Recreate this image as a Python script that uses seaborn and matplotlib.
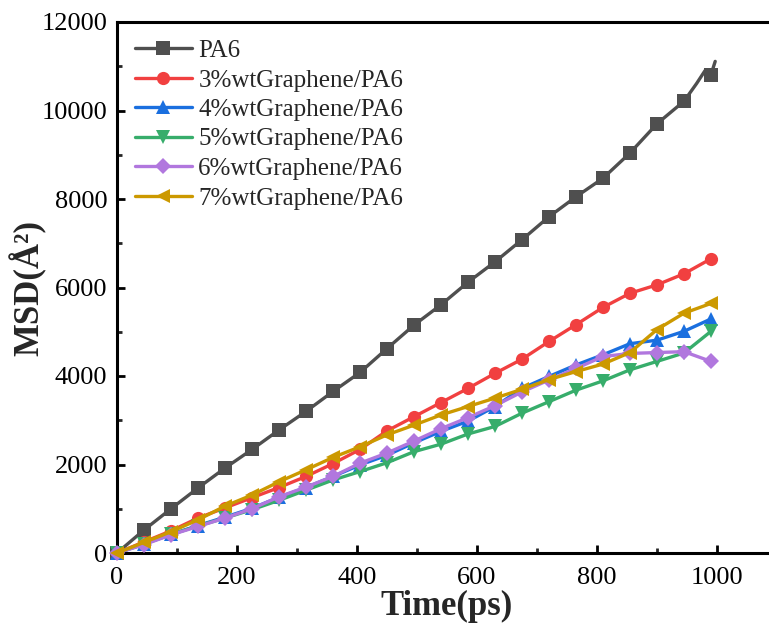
import numpy as np
import pandas as pd
import matplotlib
matplotlib.use("Agg")
import matplotlib.pyplot as plt
import seaborn as sns

# ---- data ----
time_ps = [0, 45, 90, 135, 180, 225, 270, 315, 360, 405, 450, 495, 540,
           585, 630, 675, 720, 765, 810, 855, 900, 945, 990]

pa6 = [0, 520, 1000, 1470, 1920, 2340, 2780, 3200, 3650, 4080, 4620, 5150,
       5610, 6120, 6580, 7080, 7600, 8050, 8470, 9040, 9700, 10210, 10810]
pa6_tail_t = [966, 980, 997]
pa6_tail_v = [10610, 10900, 11110]

g3 = [0, 250, 500, 790, 1020, 1250, 1480, 1730, 2020, 2340, 2760, 3080,
      3400, 3720, 4060, 4380, 4780, 5160, 5550, 5870, 6060, 6310, 6650]
g4 = [0, 200, 420, 620, 810, 1010, 1260, 1480, 1730, 1990, 2210, 2490,
      2750, 2980, 3310, 3720, 3990, 4250, 4480, 4730, 4810, 5010, 5290]
g5 = [0, 210, 420, 610, 790, 980, 1190, 1420, 1650, 1840, 2040, 2290,
      2460, 2690, 2860, 3160, 3420, 3680, 3890, 4140, 4330, 4520, 5010]
g6 = [0, 190, 410, 600, 790, 1000, 1270, 1490, 1730, 2030, 2260, 2530,
      2810, 3060, 3330, 3640, 3910, 4170, 4440, 4510, 4530, 4550, 4330]
g7 = [0, 240, 480, 750, 1060, 1310, 1610, 1880, 2160, 2400, 2670, 2890,
      3120, 3310, 3500, 3700, 3920, 4100, 4270, 4530, 5050, 5420, 5640]

labels = ["PA6", "3%wtGraphene/PA6", "4%wtGraphene/PA6",
          "5%wtGraphene/PA6", "6%wtGraphene/PA6", "7%wtGraphene/PA6"]
colors = ["#4F4F4F", "#F14040", "#1A6FDF", "#37AD6B", "#B177DE", "#CC9900"]
markers = ["s", "o", "^", "v", "D", "<"]
xticks = [0, 200, 400, 600, 800, 1000]
yticks = [0, 2000, 4000, 6000, 8000, 10000, 12000]

# ---- style ----
sns.set_style("ticks")
plt.rcParams["font.family"] = ["Liberation Serif", "DejaVu Serif"]

fig = plt.figure(figsize=(7.69, 6.30), dpi=100)
ax = fig.add_axes([117 / 769, 77 / 630, 660 / 769, 531 / 630])

series = [pa6, g3, g4, g5, g6, g7]
for i, (vals, lab, col, mk) in enumerate(zip(series, labels, colors, markers)):
    t = list(time_ps)
    v = list(vals)
    if i == 0:
        t = t + pa6_tail_t
        v = v + pa6_tail_v
    df = pd.DataFrame({"t": t, "v": v}).sort_values("t", kind="stable")
    mark_idx = [k for k, tt in enumerate(df["t"].tolist()) if tt in time_ps]
    ms = 8.5 if mk in ("D",) else 9.5
    sns.lineplot(data=df, x="t", y="v", ax=ax, color=col, marker=mk,
                 markersize=ms, markeredgewidth=0, linewidth=2.4,
                 markevery=mark_idx, label=lab, sort=False,
                 estimator=None, clip_on=False, zorder=3 + i * 0.01)

ax.set_xlim(0, 1100)
ax.set_ylim(0, 12000)
ax.set_xticks(xticks)
ax.set_yticks(yticks)
ax.set_xticks([100, 300, 500, 700, 900, 1100], minor=True)
ax.set_yticks([1000, 3000, 5000, 7000, 9000, 11000], minor=True)
ax.tick_params(axis="both", which="major", direction="in", length=6,
               width=2, labelsize=19, pad=7, colors="black")
ax.tick_params(axis="x", which="major", pad=10)
ax.tick_params(axis="both", which="minor", direction="in", length=3.5,
               width=2)
for s in ax.spines.values():
    s.set_linewidth(2.2)
    s.set_color("black")

ax.set_xlabel("Time(ps)", fontsize=25, fontweight="bold", labelpad=1)
ax.set_ylabel("MSD(Å²)", fontsize=25, fontweight="bold", labelpad=-4)

leg = ax.legend(loc="upper left", frameon=False, fontsize=18,
                handlelength=2.3, handletextpad=0.25, labelspacing=0.28,
                borderaxespad=0.3, bbox_to_anchor=(0.0, 1.0))

fig.savefig("out.png", dpi=100)
